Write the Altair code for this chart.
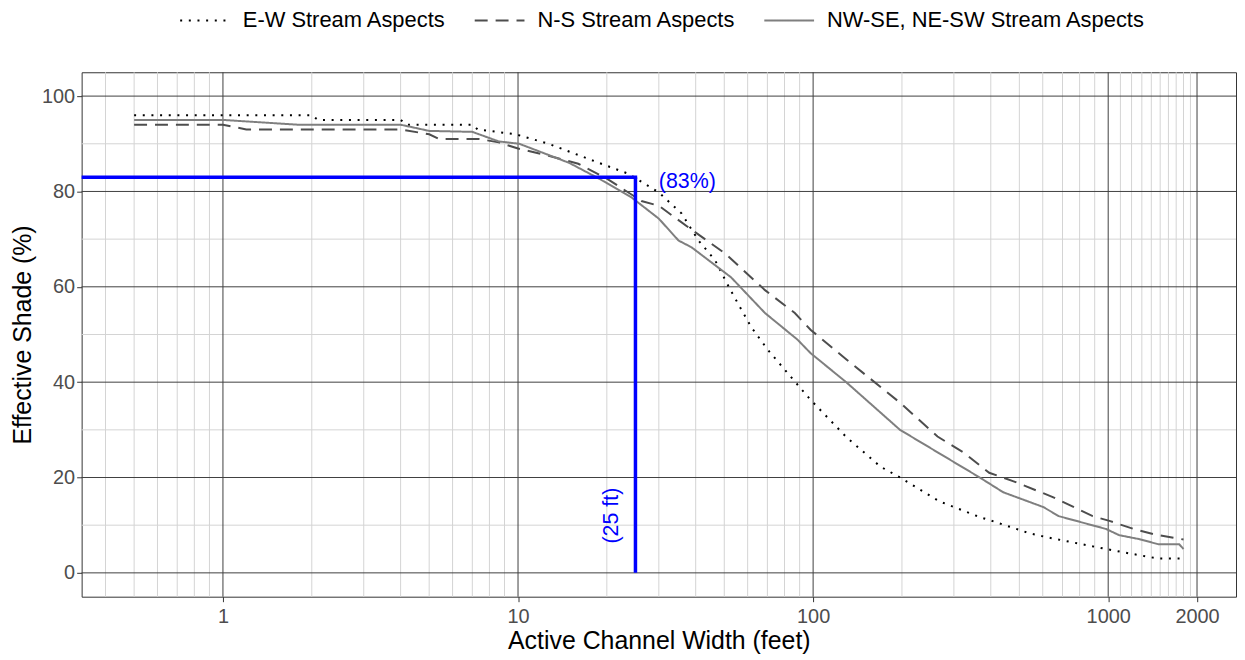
import altair as alt
import pandas as pd

# ---------------- data ----------------
ew_width = [0.5, 2.0, 2.1, 4.0, 4.2, 7.0, 7.3, 9.8, 12.7, 15.0, 18.8, 23.7, 30, 35.8, 40.9,
            46.5, 52.5, 61.6, 70.2, 81.7, 98, 130, 169, 197, 268, 367, 418, 541, 617, 984,
            1200, 1480, 1800]
ew_shade = [96, 96, 95, 95, 94, 94, 93, 92, 90, 88.3, 86, 83.7, 79.8, 75.4, 69.7,
            65.6, 59.3, 51.6, 46.8, 42, 36.3, 28.4, 22.3, 20, 15, 11.7, 10.6, 8.3, 7.5, 5,
            4, 3, 3]

ns_width = [0.5, 1.0, 1.2, 4.0, 5.0, 5.4, 7.4, 8.6, 10, 12.7, 16, 20, 26.2, 30, 38.7,
            50.3, 68.7, 86.7, 98, 130, 197, 264, 324, 395, 478, 649, 886, 1010, 1220,
            1450, 1800]
ns_shade = [94, 94, 93, 93, 92, 91, 91, 90.3, 89, 87.5, 85.8, 82.7, 78, 77, 72,
            67, 59.3, 54.5, 51, 44.7, 35.7, 28.6, 25.2, 21, 19.2, 15.9, 11.9, 10.9, 9.2,
            8, 7]

diag_width = [0.5, 1.0, 1.8, 4.0, 5.0, 7.0, 8.6, 10.1, 14.9, 18.8, 24.3, 30, 35, 38.7,
              52.7, 68.7, 88.6, 98, 130, 197, 367, 441, 603, 680, 984, 1090, 1270, 1480,
              1740, 1800]
diag_shade = [95, 95, 94, 94, 92.7, 92.5, 90.5, 90, 86, 82.7, 78.7, 74.3, 69.7, 68.3,
              62, 54.5, 48.9, 46.1, 39.9, 30, 20, 16.9, 13.8, 11.9, 9.2, 7.9, 7.1, 6,
              6, 5]

aspect_names = ["E-W Stream Aspects", "N-S Stream Aspects", "NW-SE, NE-SW Stream Aspects"]

x_major = [1, 10, 100, 1000, 2000]
x_minor = [0.4, 0.5, 0.6, 0.7, 0.8, 0.9,
           2, 3, 4, 5, 6, 7, 8, 9,
           20, 30, 40, 50, 60, 70, 80, 90,
           200, 300, 400, 500, 600, 700, 800, 900,
           1100, 1200, 1300, 1400, 1500, 1600, 1700, 1800, 1900]
y_major = [0, 20, 40, 60, 80, 100]
y_minor = [10, 30, 50, 70, 90]

ref_width = [25]
ref_shade = [83]
ref_base = [0]

pct_label = ["(83%)"]
pct_label_x = [30]
pct_label_y = [82]
ft_label = ["(25 ft)"]
ft_label_x = [20.9]
ft_label_y = [12]

# ---------------- styling ----------------
F = "Liberation Sans, Arial, sans-serif"
aspect_colors = ["#000000", "#4d4d4d", "#7f7f7f"]
aspect_dashes = [[2, 6.7], [13, 8], [1, 0]]

rows = []
for name, ws, ss in zip(aspect_names, [ew_width, ns_width, diag_width],
                        [ew_shade, ns_shade, diag_shade]):
    for w, s in zip(ws, ss):
        rows.append({"width": w, "shade": s, "aspect": name})
df = pd.DataFrame(rows)

XT = "Active Channel Width (feet)"
YT = "Effective Shade (%)"
xscale = alt.Scale(type="log", domain=[0.332, 2711], nice=False)
yscale = alt.Scale(domain=[-5, 105], nice=False, zero=False)

xaxis = alt.Axis(values=x_major, format="d", grid=False, domain=False, ticks=True,
                 tickSize=5, tickColor="#333333", tickWidth=1,
                 labelColor="#4d4d4d", labelFontSize=20, labelFont=F, labelPadding=5,
                 labelOverlap=False, labelFlush=False,
                 titleFontSize=25, titleFont=F, titleColor="black",
                 titleFontWeight="normal", titlePadding=2)
yaxis = alt.Axis(values=y_major, grid=False, domain=False, ticks=True,
                 tickSize=5, tickColor="#333333", tickWidth=1,
                 labelColor="#4d4d4d", labelFontSize=20, labelFont=F, labelPadding=2,
                 labelOverlap=False, labelFlush=False,
                 titleFontSize=25, titleFont=F, titleColor="black",
                 titleFontWeight="normal", titlePadding=6)


def X(f):
    return alt.X(f, type="quantitative", scale=xscale, axis=xaxis, title=XT)


def Y(f):
    return alt.Y(f, type="quantitative", scale=yscale, axis=yaxis, title=YT)


minor_x = alt.Chart(pd.DataFrame({"v": x_minor})).mark_rule(
    color="#d4d4d4", strokeWidth=1).encode(x=X("v"))
minor_y = alt.Chart(pd.DataFrame({"v": y_minor})).mark_rule(
    color="#d4d4d4", strokeWidth=1).encode(y=Y("v"))
major_x = alt.Chart(pd.DataFrame({"v": x_major})).mark_rule(
    color="#404040", strokeWidth=1).encode(x=X("v"))
major_y = alt.Chart(pd.DataFrame({"v": y_major})).mark_rule(
    color="#404040", strokeWidth=1).encode(y=Y("v"))

lines = alt.Chart(df).mark_line(strokeWidth=2, clip=True).encode(
    x=X("width"),
    y=Y("shade"),
    color=alt.Color("aspect:N", scale=alt.Scale(domain=aspect_names, range=aspect_colors),
                    legend=alt.Legend(title=None)),
    strokeDash=alt.StrokeDash("aspect:N",
                              scale=alt.Scale(domain=aspect_names, range=aspect_dashes),
                              legend=alt.Legend(title=None)),
)

ref_df = pd.DataFrame({"w": ref_width, "s": ref_shade, "b": ref_base})
hline = alt.Chart(ref_df).mark_rule(color="#0000ff", strokeWidth=3.5, strokeCap="square",
                                    clip=True).encode(
    x=X("w"), x2=alt.value(0), y=Y("s"))
vline = alt.Chart(ref_df).mark_rule(color="#0000ff", strokeWidth=3.5).encode(
    x=X("w"), y=Y("s"), y2=alt.Y2("b"))

pct_text = alt.Chart(pd.DataFrame({"t": pct_label, "x": pct_label_x, "y": pct_label_y})
                     ).mark_text(color="#0000ff", fontSize=21.5, font=F, align="left",
                                 baseline="middle").encode(
    x=X("x"), y=Y("y"), text="t:N")
ft_text = alt.Chart(pd.DataFrame({"t": ft_label, "x": ft_label_x, "y": ft_label_y})
                    ).mark_text(color="#0000ff", fontSize=21.5, font=F, align="center",
                                baseline="middle", angle=270).encode(
    x=X("x"), y=Y("y"), text="t:N")

chart = alt.layer(minor_x, minor_y, major_x, major_y, lines, hline, vline, pct_text, ft_text
                  ).properties(
    width=1160, height=527,
    padding={"left": 2, "top": -15, "right": 0, "bottom": 0},
).configure_view(
    stroke="#333333", strokeWidth=1
).configure_legend(
    orient="none", legendX=98, legendY=-78, direction="horizontal",
    symbolType="stroke", symbolSize=2500, symbolStrokeWidth=2,
    labelFontSize=22, labelFont=F, labelColor="black", labelOffset=12,
    labelLimit=500, columnPadding=24, padding=0,
)

chart.save("out.html", embed_options={"renderer": "svg", "actions": False})
